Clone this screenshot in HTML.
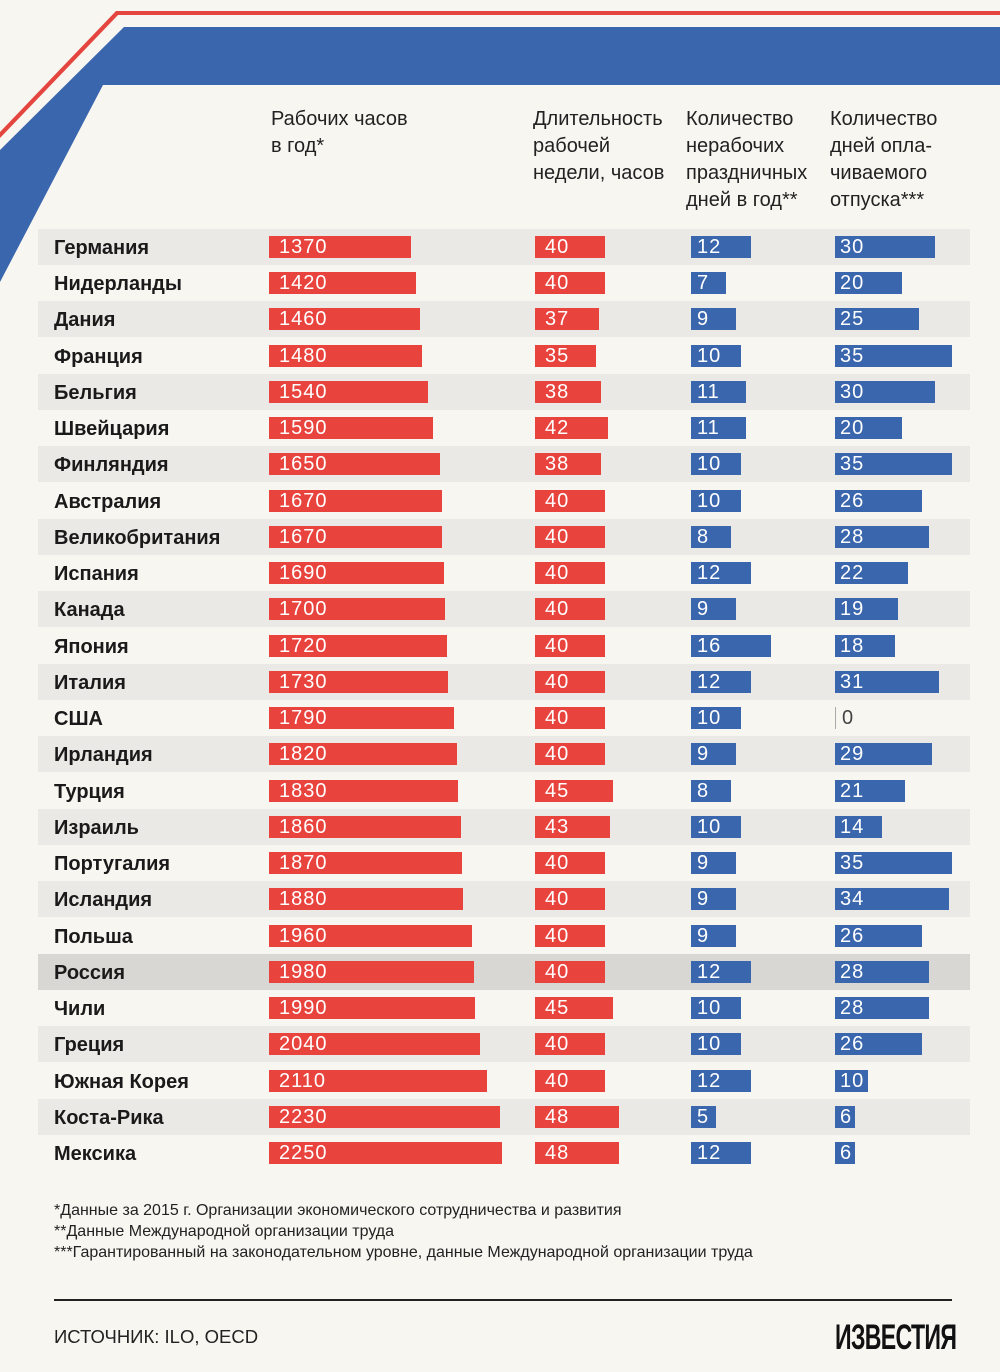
<!DOCTYPE html>
<html><head><meta charset="utf-8">
<style>
body{margin:0;background:#f8f6f1;}
#root{position:relative;width:1000px;height:1372px;overflow:hidden;background:#f8f6f1;font-family:"Liberation Sans Narrow","Liberation Sans",sans-serif;}
.hd{position:absolute;top:106px;font-size:20px;line-height:27px;color:#222;}
.band{position:absolute;left:38px;width:932px;height:36px;}
.name{position:absolute;left:54px;font-size:20px;font-weight:bold;color:#1a1a1a;line-height:36px;}
.bar{position:absolute;height:22px;color:#fff;font-size:20px;line-height:22px;box-sizing:border-box;letter-spacing:1px;white-space:nowrap;}
.fn{position:absolute;left:54px;font-size:16px;color:#222;}
</style></head>
<body>
<div id="root">
<svg width="1000" height="300" style="position:absolute;left:0;top:0">
  <polygon points="116,11 1000,11 1000,15 118,15 0,138 0,132" fill="#e4453f"/>
  <polygon points="124,27 1000,27 1000,85 103,85 0,282 0,150" fill="#3a66ad"/>
</svg>
<div class="hd" style="left:271px">Рабочих часов<br>в год*</div>
<div class="hd" style="left:533px">Длительность<br>рабочей<br>недели, часов</div>
<div class="hd" style="left:686px">Количество<br>нерабочих<br>праздничных<br>дней в год**</div>
<div class="hd" style="left:830px">Количество<br>дней опла-<br>чиваемого<br>отпуска***</div>
<div id="rows"></div>
<div class="fn" style="top:1202px">*Данные за 2015 г. Организации экономического сотрудничества и развития</div>
<div class="fn" style="top:1223px">**Данные Международной организации труда</div>
<div class="fn" style="top:1244px">***Гарантированный на законодательном уровне, данные Международной организации труда</div>
<div style="position:absolute;left:54px;top:1299px;width:898px;height:2px;background:#222"></div>
<div style="position:absolute;left:54px;top:1326px;font-size:18.5px;color:#222">ИСТОЧНИК: ILO, OECD</div>
<div style="position:absolute;left:835px;top:1318px;font-size:35px;font-weight:bold;color:#111;letter-spacing:-1px;transform:scaleX(0.66);transform-origin:left;white-space:nowrap">ИЗВЕСТИЯ</div>
</div>
<script>
const countries=["Германия","Нидерланды","Дания","Франция","Бельгия","Швейцария","Финляндия","Австралия","Великобритания","Испания","Канада","Япония","Италия","США","Ирландия","Турция","Израиль","Португалия","Исландия","Польша","Россия","Чили","Греция","Южная Корея","Коста-Рика","Мексика"];
const hours=[1370,1420,1460,1480,1540,1590,1650,1670,1670,1690,1700,1720,1730,1790,1820,1830,1860,1870,1880,1960,1980,1990,2040,2110,2230,2250];
const week=[40,40,37,35,38,42,38,40,40,40,40,40,40,40,40,45,43,40,40,40,40,45,40,40,48,48];
const holidays=[12,7,9,10,11,11,10,10,8,12,9,16,12,10,9,8,10,9,9,9,12,10,10,12,5,12];
const vacation=[30,20,25,35,30,20,35,26,28,22,19,18,31,0,29,21,14,35,34,26,28,28,26,10,6,6];
const rows=document.getElementById('rows');
const rowY=i=>229+i*36.24;
const cols=[{x:269,k:0.1034,c:"#e8433d",p:10,d:hours,n:"hours"},{x:535,k:1.74,c:"#e8433d",p:10,d:week,n:"week"},{x:691,k:5,c:"#3a66ad",p:6,d:holidays,n:"holidays"},{x:835,k:3.34,c:"#3a66ad",p:5,d:vacation,n:"vacation"}];
countries.forEach((name,i)=>{
  const y=rowY(i);
  if(i%2===0||name==="Россия"){
    const b=document.createElement('div');b.className='band';
    
    
    b.style.top=y+'px';b.style.background=name==="Россия"?"#d9d7d3":"#ebe9e5";rows.appendChild(b);
  }
  const t=document.createElement('div');t.className='name';
  
  
  t.style.top=(y+1)+'px';t.textContent=name;rows.appendChild(t);
  cols.forEach(c=>{
    const v=c.d[i];const bar=document.createElement('div');bar.className='bar';
    
    
    bar.style.left=c.x+'px';bar.style.top=(y+7)+'px';bar.style.paddingLeft=c.p+'px';
    const w=v*c.k;bar.style.width=Math.max(w,2)+'px';
    if(v===0){bar.style.background='transparent';bar.style.borderLeft='1px solid #aaa';bar.style.color='#444';bar.style.width='30px';bar.style.paddingLeft='6px';}
    else bar.style.background=c.c;
    bar.textContent=v;rows.appendChild(bar);
  });
});
</script>
</body></html>
